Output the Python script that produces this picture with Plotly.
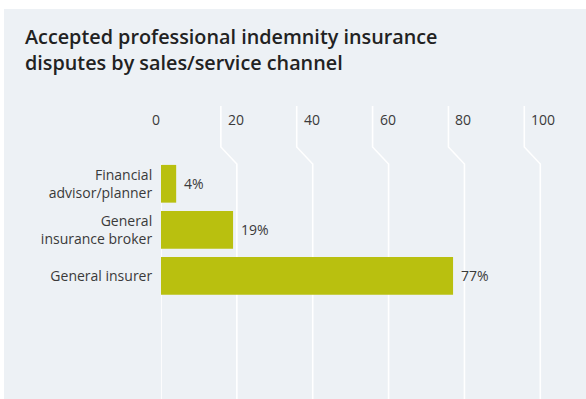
import plotly.graph_objects as go

# Data
channels = ["Financial<br>advisor/planner", "General<br>insurance broker", "General insurer"]
shares = [4, 19, 77]
value_labels = ["4%", "19%", "77%"]
tick_values = [0, 20, 40, 60, 80, 100]
tick_labels = ["0", "20", "40", "60", "80", "100"]
title_lines = ["Accepted professional indemnity insurance", "disputes by sales/service channel"]

PANEL = "#EDF1F5"
BAR = "#B9C00F"
TEXT = "#3a3a3a"
FONT = "Open Sans"

W, H = 586, 399
L, T = 161, 106
px_per_unit = 3.793
x_max = (W - L) / px_per_unit
plot_h = H - T

fig = go.Figure()
fig.add_trace(go.Bar(
    x=shares,
    y=channels,
    orientation="h",
    marker=dict(color=BAR, line=dict(width=0)),
    hoverinfo="skip",
))

shapes = [
    # light panel behind the chart
    dict(type="rect", xref="paper", yref="paper",
         x0=(4 - L) / (W - L), x1=1.02, y0=-0.02, y1=(H - 9) / plot_h,
         fillcolor=PANEL, line=dict(width=0), layer="below"),
]

# kinked gridlines: short upper stem, diagonal step, then full-height line at the value
off = 16 / px_per_unit
y_k1 = (H - 147) / plot_h
y_k2 = (H - 164) / plot_h
for t in tick_values:
    shapes.append(dict(
        type="path", xref="x", yref="paper",
        path=f"M {t - off},1 L {t - off},{y_k1} L {t},{y_k2} L {t},0",
        line=dict(color="white", width=1.6), layer="below",
    ))

annotations = []
for t, lab in zip(tick_values, tick_labels):
    annotations.append(dict(
        x=t, y=(H - 119) / plot_h, xref="x", yref="paper",
        text=lab, showarrow=False, xanchor="left", yanchor="middle",
        xshift=-11, font=dict(family=FONT, size=14, color=TEXT),
    ))
for c, v, lab in zip(channels, shares, value_labels):
    annotations.append(dict(
        x=v, y=c, xref="x", yref="y", text=lab, showarrow=False,
        xanchor="left", yanchor="middle", xshift=6,
        font=dict(family=FONT, size=14, color=TEXT),
    ))
annotations.append(dict(
    x=(23 - L) / (W - L), y=(H - 49) / plot_h, xref="paper", yref="paper",
    text="<br>".join(title_lines), showarrow=False,
    xanchor="left", yanchor="middle", align="left",
    font=dict(family=FONT, size=19.8, color="#222222", weight=600),
))

fig.update_layout(
    width=W, height=H,
    margin=dict(l=L, r=0, t=T, b=0),
    paper_bgcolor="white",
    plot_bgcolor="rgba(0,0,0,0)",
    showlegend=False,
    bargap=0.18,
    shapes=shapes,
    annotations=annotations,
    xaxis=dict(range=[0, x_max], showgrid=False, zeroline=False,
               showticklabels=False, showline=False, fixedrange=True),
    yaxis=dict(range=[4.676, -1.69], showgrid=False, zeroline=False,
               showline=False, ticks="outside", ticklen=5, tickcolor="rgba(0,0,0,0)",
               tickfont=dict(family=FONT, size=14, color=TEXT), fixedrange=True),
)

fig.write_html("out.html")
